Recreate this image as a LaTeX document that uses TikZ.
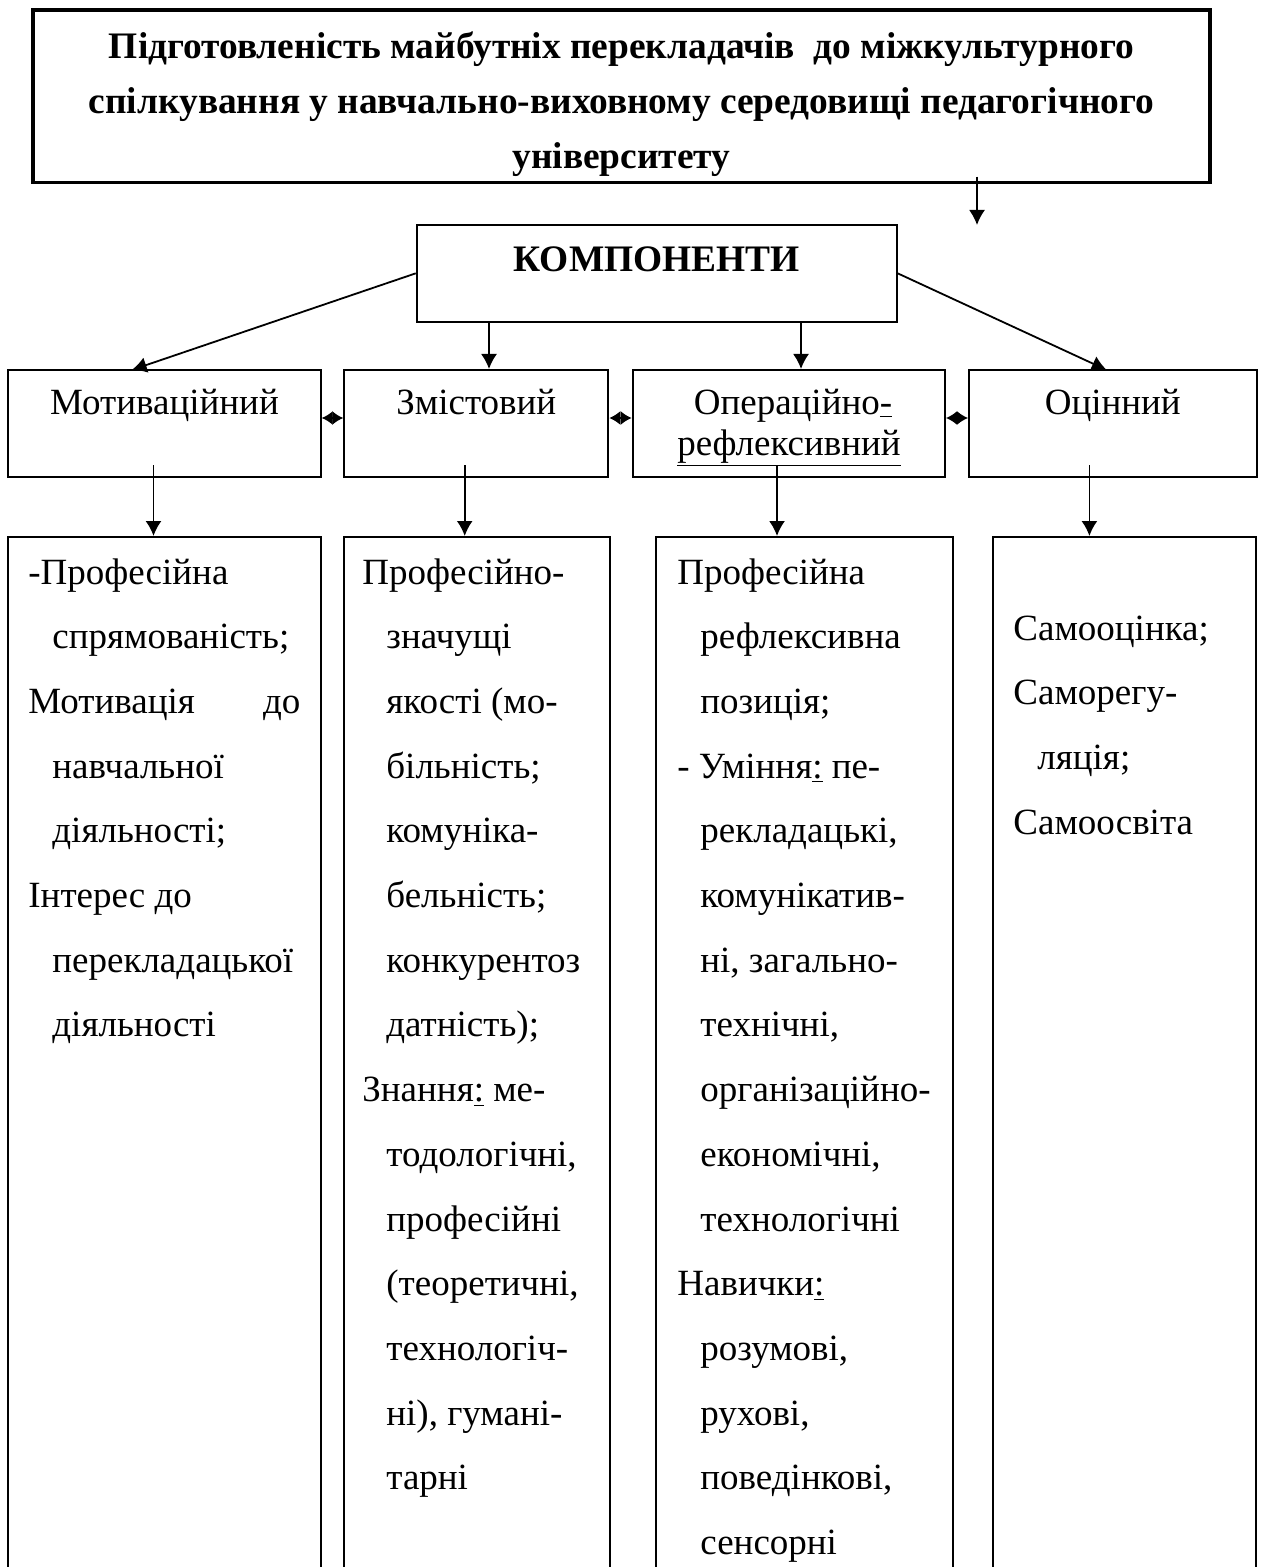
\documentclass[tikz,border=0pt]{standalone}
\usepackage{fontspec}
\setmainfont{Liberation Serif}
\usetikzlibrary{arrows.meta,fit}
\begin{document}
\begin{tikzpicture}[x=0.5pt,y=-0.5pt,
  txt/.style={font=\fontsize{18.5pt}{22pt}\selectfont, inner sep=0pt},
  btxt/.style={font=\fontsize{18.7pt}{22pt}\selectfont\bfseries, inner sep=0pt},
  box/.style={draw, line width=1pt, inner sep=0pt, fit={#1}},
  arr/.style={line width=0.9pt, -{Latex[length=7.5pt,width=8pt]}},
  darr/.style={line width=0.9pt, {Latex[length=5.5pt,width=7pt]}-{Latex[length=5.5pt,width=7pt]}}]
\useasboundingbox (0,0) rectangle (1261,1567);

% title box
\node[box={(33,10) (1210,182.7)}, line width=1.6pt] (T) {};
\node[btxt, anchor=base] (t1) at (621.5,59) {Підготовленість майбутніх перекладачів\ \ до міжкультурного};
\node[btxt, anchor=base] (t2) at (621.5,114) {спілкування у навчально-виховному середовищі педагогічного};
\node[btxt, anchor=base] (t3) at (621.5,169) {університету};

% components box
\node[box={(416.7,225) (896.7,321.7)}] (K) {};
\node[btxt, anchor=base] (kt) at (656.7,272) {КОМПОНЕНТИ};

% row boxes
\node[box={(8.3,370) (320.7,476.7)}] (R1) {};
\node[box={(344.3,370) (608.3,476.7)}] (R2) {};
\node[box={(632.7,370) (945,476.7)}] (R3) {};
\node[box={(969,370) (1256.7,476.7)}] (R4) {};
\node[txt, anchor=base] (r1t) at (164.5,414) {Мотиваційний};
\node[txt, anchor=base] (r2t) at (476.3,414) {Змістовий};
\node[txt, anchor=base] (r3t) at (793,414) {Операційно\underline{-}};
\node[txt, anchor=base] (r3u) at (789,455) {\underline{рефлексивний}};
\node[txt, anchor=base] (r4t) at (1112.8,414) {Оцінний};

% bottom boxes (run past the lower edge)
\node[box={(8.3,537) (320.7,1590)}] (B1) {};
\node[box={(344.3,537) (609.5,1590)}] (B2) {};
\node[box={(655.8,537) (953.3,1590)}] (B3) {};
\node[box={(992.7,537) (1256,1590)}] (B4) {};

% connectors
\coordinate (ts) at (977,176.7);
\coordinate (te) at (977,225);
\draw[arr] (ts) -- (te);
\coordinate (k1) at (131.7,370);
\coordinate (k4) at (1106.7,370);
\draw[arr] (K.west) -- (k1);
\draw[arr] (K.east) -- (k4);
\draw[arr] (K.south -| 489,0) -- (R2.north -| 489,0);
\draw[arr] (K.south -| 801,0) -- (R3.north -| 801,0);
\draw[darr] (R1.east |- 0,418) -- (R2.west |- 0,418);
\draw[darr] (R2.east |- 0,418) -- (R3.west |- 0,418);
\draw[darr] (R3.east |- 0,418) -- (R4.west |- 0,418);
\draw[arr] (153.5,465) -- (B1.north -| 153.5,0);
\draw[arr] (464.7,465) -- (B2.north -| 464.7,0);
\draw[arr] (777,465) -- (B3.north -| 777,0);
\draw[arr] (1089.4,465) -- (B4.north -| 1089.4,0);

% column 1
\foreach \x/\t [count=\i] in {
  28/{-Професійна},
  52/{спрямованість;},
  28/{\makebox[136pt][l]{Мотивація\hfill до}},
  52/{навчальної},
  52/{діяльності;},
  28/{Інтерес до},
  52/{перекладацької},
  52/{діяльності}}
  \node[txt, anchor=base west] (a\i) at ({\x},{584+(\i-1)*64.7}) {\t};

% column 2
\foreach \x/\t [count=\i] in {
  362/{Професійно-},
  386/{значущі},
  386/{якості (мо-},
  386/{більність;},
  386/{комуніка-},
  386/{бельність;},
  386/{конкурентоз},
  386/{датність);},
  362/{Знання\underline{:} ме-},
  386/{тодологічні,},
  386/{професійні},
  386/{(теоретичні,},
  386/{технологіч-},
  386/{ні), гумані-},
  386/{тарні}}
  \node[txt, anchor=base west] (b\i) at ({\x},{584+(\i-1)*64.7}) {\t};

% column 3
\foreach \x/\t [count=\i] in {
  677/{Професійна},
  700/{рефлексивна},
  700/{позиція;},
  677/{- Уміння\underline{:} пе-},
  700/{рекладацькі,},
  700/{комунікатив-},
  700/{ні, загально-},
  700/{технічні,},
  700/{організаційно-},
  700/{економічні,},
  700/{технологічні},
  677/{Навички\underline{:}},
  700/{розумові,},
  700/{рухові,},
  700/{поведінкові,},
  700/{сенсорні}}
  \node[txt, anchor=base west] (c\i) at ({\x},{584+(\i-1)*64.7}) {\t};

% column 4
\foreach \x/\t [count=\i] in {
  1013/{Самооцінка;},
  1013/{Саморегу-},
  1037/{ляція;},
  1013/{Самоосвіта}}
  \node[txt, anchor=base west] (d\i) at ({\x},{640+(\i-1)*64.7}) {\t};
\end{tikzpicture}
\end{document}
